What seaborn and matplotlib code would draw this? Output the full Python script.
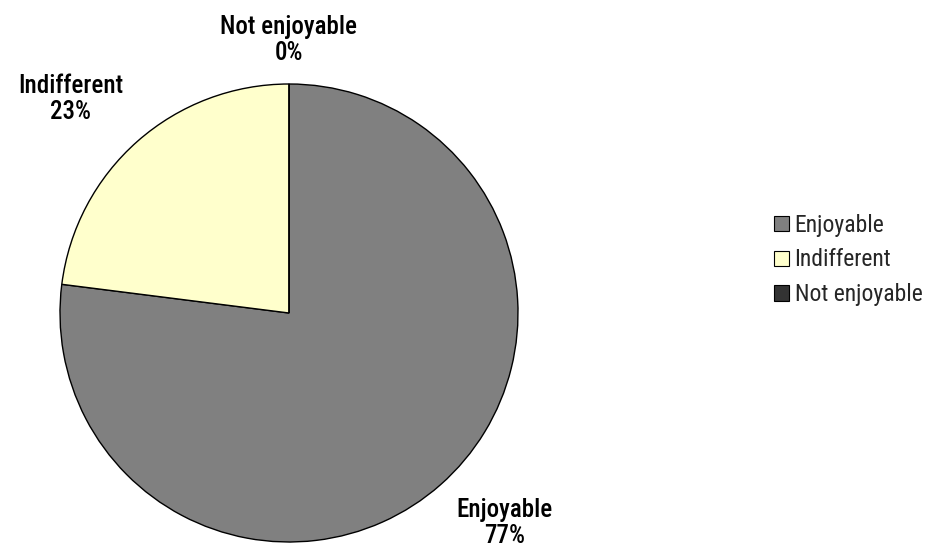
import matplotlib
matplotlib.use("Agg")
import matplotlib.pyplot as plt
from matplotlib.patches import Patch
import seaborn as sns

categories = ["Enjoyable", "Indifferent", "Not enjoyable"]
shares = [77, 23, 0]
colors = ["#808080", "#FFFFCC", "#333333"]
# label anchor points, in units of the pie radius
label_xy = [(0.943, -0.917), (-0.952, 0.934), (0.0, 1.192)]

sns.set_theme(style="white")
plt.rcParams["font.family"] = ["Roboto Condensed", "Archivo Narrow", "DejaVu Sans"]

fig = plt.figure(figsize=(9.4, 5.56), dpi=100)
W, H = 940, 556
ax = fig.add_axes([60 / W, (H - 542) / H, 458 / W, 458 / H])

wedges, texts = ax.pie(
    shares,
    labels=[f"{c}\n{v}%" for c, v in zip(categories, shares)],
    colors=colors,
    startangle=90,
    counterclock=False,
    radius=1.0,
    wedgeprops=dict(edgecolor="black", linewidth=1.0),
    textprops=dict(fontsize=18, fontweight="medium", color="black"),
)
for t, (x, y) in zip(texts, label_xy):
    t.set_position((x, y))
    t.set_ha("center")
    t.set_va("center")
    t.set_multialignment("center")
    t.set_linespacing(1.12)
    t.set_clip_on(False)

ax.set_xlim(-1.0, 1.0)
ax.set_ylim(-1.0, 1.0)
ax.set_aspect("equal")
ax.axis("off")

handles = [Patch(facecolor=c, edgecolor="black", linewidth=0.8) for c in colors]
fig.legend(
    handles, categories,
    loc="center left",
    bbox_to_anchor=(774 / W, 1 - 260 / H),
    frameon=False,
    fontsize=17,
    handlelength=0.62,
    handleheight=0.62,
    handletextpad=0.25,
    labelspacing=0.5,
    borderaxespad=0,
    borderpad=0,
)

fig.savefig("out.png", dpi=100, facecolor="white")
